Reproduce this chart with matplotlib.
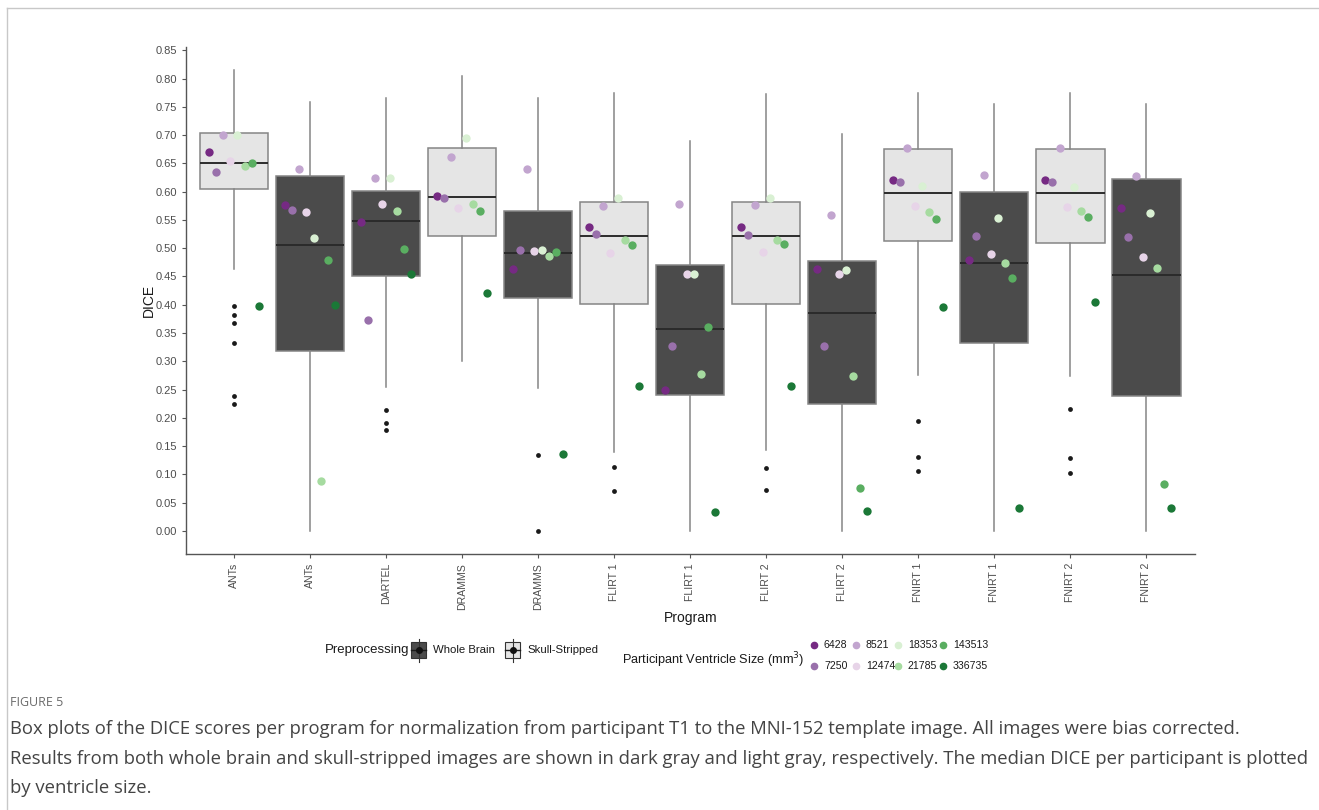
import matplotlib.pyplot as plt
from matplotlib.patches import Rectangle
from matplotlib.lines import Line2D
import numpy as np

plt.rcParams['font.family'] = ['Liberation Sans', 'DejaVu Sans']

W, H = 1319, 810

# one box per program / preprocessing combination
programs = ["ANTs", "ANTs", "DARTEL", "DRAMMS", "DRAMMS", "FLIRT 1", "FLIRT 1",
            "FLIRT 2", "FLIRT 2", "FNIRT 1", "FNIRT 1", "FNIRT 2", "FNIRT 2"]
skull_stripped = [True, False, False, True, False, True, False,
                  True, False, True, False, True, False]

q1 = [0.605, 0.319, 0.450, 0.522, 0.412, 0.402, 0.240, 0.402, 0.225, 0.513, 0.333, 0.509, 0.239]
med = [0.651, 0.506, 0.549, 0.591, 0.491, 0.521, 0.357, 0.522, 0.386, 0.598, 0.474, 0.598, 0.453]
q3 = [0.704, 0.627, 0.602, 0.678, 0.566, 0.582, 0.471, 0.582, 0.478, 0.676, 0.600, 0.676, 0.622]
whis_lo = [0.464, 0.000, 0.254, 0.300, 0.253, 0.139, 0.000, 0.143, 0.000, 0.276, 0.000, 0.274, 0.000]
whis_hi = [0.815, 0.758, 0.765, 0.805, 0.766, 0.775, 0.690, 0.773, 0.702, 0.775, 0.755, 0.775, 0.755]
outliers = [[0.398, 0.381, 0.367, 0.333, 0.238, 0.225], [], [0.214, 0.191, 0.179], [],
            [0.135, 0.000], [0.113, 0.070], [], [0.112, 0.072], [],
            [0.194, 0.131, 0.105], [], [0.215, 0.129, 0.103], []]

# median DICE per participant (columns follow ventricle_sizes)
ventricle_sizes = [6428, 7250, 8521, 12474, 18353, 21785, 143513, 336735]
size_colors = ['#762a83', '#9970ab', '#c2a5cf', '#e7d4e8',
               '#d9f0d3', '#a6dba0', '#5aae61', '#1b7837']
participant_dice = [
    [0.671, 0.635, 0.700, 0.654, 0.701, 0.646, 0.650, 0.398],
    [0.576, 0.568, 0.641, 0.564, 0.518, 0.088, 0.480, 0.400],
    [0.547, 0.373, 0.625, 0.578, 0.624, 0.565, 0.498, 0.455],
    [0.592, 0.589, 0.661, 0.572, 0.695, 0.578, 0.565, 0.421],
    [0.464, 0.497, 0.640, 0.495, 0.497, 0.487, 0.494, 0.136],
    [0.538, 0.525, 0.575, 0.492, 0.588, 0.514, 0.505, 0.257],
    [0.250, 0.327, 0.578, 0.454, 0.455, 0.277, 0.361, 0.034],
    [0.538, 0.524, 0.577, 0.493, 0.588, 0.515, 0.507, 0.257],
    [0.463, 0.327, 0.559, 0.454, 0.461, 0.274, 0.076, 0.035],
    [0.621, 0.617, 0.678, 0.574, 0.610, 0.564, 0.551, 0.396],
    [0.480, 0.521, 0.630, 0.490, 0.554, 0.473, 0.447, 0.041],
    [0.621, 0.618, 0.678, 0.573, 0.608, 0.565, 0.555, 0.404],
    [0.572, 0.520, 0.627, 0.485, 0.563, 0.465, 0.083, 0.041],
]

caption_lines = [
    "Box plots of the DICE scores per program for normalization from participant T1 to the MNI-152 template image. All images were bias corrected.",
    "Results from both whole brain and skull-stripped images are shown in dark gray and light gray, respectively. The median DICE per participant is plotted",
    "by ventricle size.",
]

LIGHT, DARK, EDGE = '#e5e5e5', '#4b4b4b', '#858585'


def fx(x):
    return x / W


def fy(y):
    return 1 - y / H


fig = plt.figure(figsize=(W / 100, H / 100), dpi=100)
ax = fig.add_axes([fx(186), fy(554), (1195 - 186) / W, (554 - 47) / H])

positions = np.arange(1, len(programs) + 1)
stats = [dict(med=m, q1=a, q3=b, whislo=lo, whishi=hi, fliers=[])
         for m, a, b, lo, hi in zip(med, q1, q3, whis_lo, whis_hi)]
bp = ax.bxp(stats, positions=positions, widths=0.9, showcaps=False, patch_artist=True,
            boxprops=dict(edgecolor=EDGE, linewidth=1.1),
            whiskerprops=dict(color=EDGE, linewidth=1.1),
            medianprops=dict(color='#2b2b2b', linewidth=1.4), zorder=1)
for patch, ss in zip(bp['boxes'], skull_stripped):
    patch.set_facecolor(LIGHT if ss else DARK)

for p, vals in zip(positions, outliers):
    ax.scatter([p] * len(vals), vals, s=12, color='#1a1a1a', zorder=2, linewidths=0)

offsets = np.linspace(-0.33, 0.33, len(ventricle_sizes))
dice = np.array(participant_dice)
for j, c in enumerate(size_colors):
    ax.scatter(positions + offsets[j], dice[:, j], s=36, color=c, zorder=3, linewidths=0)

ax.set_xlim(0.37, 13.64)
ax.set_ylim(-0.041, 0.856)
ax.set_yticks(np.arange(0, 0.851, 0.05))
ax.set_yticklabels([f"{v:.2f}" for v in np.arange(0, 0.851, 0.05)])
ax.set_xticks(positions)
ax.set_xticklabels(programs, rotation=90)
ax.tick_params(axis='both', colors='#555555', labelcolor='#4d4d4d', labelsize=8,
               length=3, width=0.8)
ax.tick_params(axis='x', labelsize=7.6)
for side in ['top', 'right']:
    ax.spines[side].set_visible(False)
for side in ['left', 'bottom']:
    ax.spines[side].set_color('#555555')
    ax.spines[side].set_linewidth(1.0)
ax.set_ylabel('DICE', fontsize=10, color='#1a1a1a', labelpad=0)
ax.set_xlabel('Program', fontsize=10, color='#1a1a1a', labelpad=1)

# preprocessing legend
fig.text(fx(325), fy(650), 'Preprocessing', fontsize=9.5, va='center', color='#1a1a1a')
for x0, fill, lab in [(411, DARK, 'Whole Brain'), (505, LIGHT, 'Skull-Stripped')]:
    fig.add_artist(Line2D([fx(x0 + 7.5)] * 2, [fy(639), fy(662)], color='#333333', lw=0.8))
    fig.add_artist(Rectangle((fx(x0), fy(658)), 15 / W, 16 / H, facecolor=fill,
                             edgecolor='#333333', lw=0.8))
    fig.add_artist(Line2D([fx(x0), fx(x0 + 15)], [fy(650)] * 2, color='#1a1a1a', lw=1.0))
    fig.add_artist(Line2D([fx(x0 + 7.5)], [fy(650)], marker='o', markersize=4,
                          color='#111111', lw=0))
    fig.text(fx(x0 + 22), fy(650), lab, fontsize=8.2, va='center', color='#1a1a1a')

# ventricle size legend
fig.text(fx(622), fy(660), 'Participant Ventricle Size (mm$^3$)', fontsize=9.2,
         va='center', color='#1a1a1a')
col_x = [814, 856, 898, 943]
row_y = [645, 666]
for j, (sz, c) in enumerate(zip(ventricle_sizes, size_colors)):
    x0, y0 = col_x[j // 2], row_y[j % 2]
    fig.add_artist(Line2D([fx(x0)], [fy(y0)], marker='o', markersize=4.5, color=c, lw=0))
    fig.text(fx(x0 + 10), fy(y0), str(sz), fontsize=7.6, va='center', color='#1a1a1a')

# figure frame and caption
fig.add_artist(Line2D([fx(7), 1], [fy(8), fy(8)], color='#c8c8c8', lw=1))
fig.add_artist(Line2D([fx(7), fx(7)], [fy(8), 0], color='#c8c8c8', lw=1))
fig.text(fx(10), fy(702), 'FIGURE 5', fontsize=9, va='center', color='#6b6b6b',
         family=['Open Sans', 'DejaVu Sans'])
for i, line in enumerate(caption_lines):
    fig.text(fx(10), fy(729 + 29.5 * i), line, fontsize=13.3, va='center', color='#444444',
             family=['Open Sans', 'DejaVu Sans'])

fig.savefig('out.png', dpi=100)
